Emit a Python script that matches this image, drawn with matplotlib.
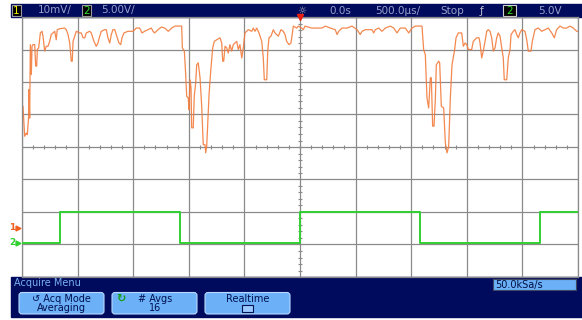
import numpy as np
import matplotlib.pyplot as plt
from matplotlib.patches import Rectangle, FancyBboxPatch

# channel 1 (orange), time in us, level in mV (10 mV/div)
t1 = [-2491, -2476, -2461, -2452, -2440, -2437, -2431, -2425, -2416, -2410,
      -2401, -2386, -2377, -2368, -2362, -2350, -2335, -2320, -2311, -2296,
      -2282, -2266, -2251, -2237, -2221, -2206, -2192, -2183, -2161, -2116,
      -2102, -2086, -2071, -2057, -2048, -2041, -2026, -2012, -1981, -1967,
      -1951, -1936, -1922, -1891, -1877, -1853, -1832, -1817, -1801, -1787,
      -1756, -1742, -1727, -1711, -1697, -1682, -1666, -1652, -1628, -1612,
      -1601, -1583, -1547, -1502, -1472, -1442, -1421, -1397, -1367, -1337,
      -1322, -1307, -1277, -1247, -1217, -1184, -1154, -1124, -1064, -1058,
      -1040, -1028, -1019, -1005, -998, -989, -980, -974, -960, -951,
      -938, -929, -915, -899, -884, -870, -854, -848, -839, -830,
      -818, -803, -785, -771, -749, -719, -704, -695, -686, -674,
      -659, -645, -630, -614, -600, -585, -569, -555, -540, -524,
      -510, -495, -465, -434, -420, -405, -389, -369, -344, -330,
      -321, -299, -290, -279, -261, -240, -225, -195, -171, -150,
      -135, -120, -99, -81, -69, -60, -30, -15, 15, 30,
      45, 105, 153, 198, 228, 272, 317, 333, 348, 378,
      423, 468, 513, 542, 558, 587, 647, 663, 677, 708,
      737, 767, 812, 843, 872, 902, 947, 978, 1007, 1037,
      1097, 1112, 1127, 1142, 1157, 1172, 1181, 1193, 1205, 1217,
      1226, 1247, 1256, 1271, 1292, 1307, 1322, 1337, 1352, 1367,
      1391, 1403, 1424, 1454, 1469, 1484, 1499, 1514, 1544, 1558,
      1589, 1610, 1619, 1634, 1648, 1664, 1679, 1693, 1709, 1724,
      1738, 1754, 1769, 1783, 1799, 1814, 1828, 1837, 1859, 1873,
      1889, 1898, 1918, 1933, 1949, 1963, 1978, 1994, 2023, 2039,
      2053, 2077, 2089, 2113, 2143, 2174, 2203, 2233, 2264, 2287,
      2308, 2338, 2368, 2398, 2428, 2458, 2488, 2500]
v1 = [37.4, 28.2, 29.2, 28.7, 34.4, 42.6, 33.8, 56.4, 47.2, 55.9,
      56.4, 56.4, 49.8, 49.8, 54.9, 55.4, 60.0, 60.5, 59.0, 54.4,
      55.9, 55.9, 57.4, 59.5, 60.0, 60.5, 57.9, 61.0, 61.3, 61.5,
      61.0, 59.5, 56.9, 51.3, 51.3, 57.4, 59.0, 60.5, 60.0, 60.0,
      58.5, 58.5, 60.0, 60.5, 60.0, 57.4, 55.9, 56.9, 59.0, 60.5,
      61.0, 61.0, 58.5, 56.9, 59.5, 61.0, 61.0, 59.5, 56.9, 56.4,
      58.5, 60.0, 60.5, 60.5, 61.5, 61.5, 60.0, 60.5, 61.0, 61.5,
      60.5, 60.0, 61.0, 61.8, 61.5, 60.5, 61.5, 62.1, 62.1, 55.4,
      54.4, 47.2, 40.5, 40.0, 36.4, 45.6, 43.1, 30.8, 30.8, 40.5,
      44.6, 50.2, 50.8, 46.2, 37.4, 25.6, 25.6, 23.1, 25.1, 31.8,
      41.0, 48.2, 55.4, 57.4, 57.9, 58.5, 56.9, 51.3, 51.3, 55.9,
      55.4, 53.8, 56.4, 54.4, 56.4, 56.9, 57.4, 54.9, 56.4, 52.3,
      55.4, 60.0, 61.0, 60.5, 61.5, 60.5, 61.5, 60.0, 57.4, 52.3,
      45.6, 45.6, 54.4, 58.5, 59.0, 61.0, 60.0, 59.0, 61.0, 60.5,
      59.5, 57.4, 56.4, 56.9, 60.0, 62.1, 61.5, 62.1, 61.5, 61.0,
      62.1, 61.5, 61.5, 61.5, 62.1, 61.5, 61.0, 59.5, 60.5, 61.5,
      61.5, 62.1, 61.0, 59.5, 60.5, 61.0, 61.0, 60.0, 61.0, 61.5,
      60.5, 61.5, 62.1, 61.5, 60.0, 61.5, 61.5, 60.0, 61.5, 62.1,
      62.1, 54.9, 53.3, 40.0, 36.9, 46.2, 46.2, 31.3, 31.3, 39.5,
      50.2, 51.3, 50.8, 37.4, 36.9, 26.2, 23.1, 25.1, 40.0, 50.2,
      54.9, 58.5, 60.0, 60.0, 55.9, 56.9, 56.4, 54.9, 54.9, 57.4,
      58.5, 58.5, 56.9, 52.3, 54.4, 57.4, 60.5, 61.0, 60.5, 58.5,
      54.4, 55.4, 58.5, 60.0, 59.0, 55.4, 52.3, 45.6, 45.6, 52.3,
      54.9, 59.5, 60.5, 61.0, 59.5, 58.5, 60.0, 61.0, 60.5, 57.9,
      54.4, 54.4, 57.4, 61.0, 61.5, 60.5, 61.0, 61.5, 60.0, 58.5,
      61.0, 62.1, 61.5, 61.5, 62.1, 61.5, 60.5, 60.5]

# channel 2 (green) square wave: edge times in us, level in V (5 V/div)
t2 = [-2500, -2158, -1079, 0, 1079, 2158, 2500]
v2 = [0.0, 4.7, 0.0, 4.7, 0.0, 4.7, 4.7]

ch1_range = (-15.1, 64.9)
ch2_range = (-5.3, 34.7)

navy = '#000b5e'
btn = '#6cb0f8'
grid_c = '#8a8a8a'

fig = plt.figure(figsize=(5.82, 3.2), dpi=100)
fig.patch.set_facecolor('white')

# screen furniture in pixel coordinates
ui = fig.add_axes([0, 0, 1, 1])
ui.set_xlim(0, 582)
ui.set_ylim(320, 0)
ui.axis('off')

ui.add_patch(Rectangle((11, 3.5), 571, 13.5, color=navy))
ui.add_patch(Rectangle((11, 277), 571, 40, color=navy))

hdr = dict(fontsize=7.5, va='center', family='DejaVu Sans')
ui.add_patch(Rectangle((12, 4.5), 8.5, 11.5, facecolor='black', edgecolor='#9a9a9a', lw=0.8))
ui.text(16.3, 10.5, '1', color='#f0f000', ha='center', **hdr)
ui.text(38, 10.5, '10mV/', color='#98a0c8', **hdr)
ui.add_patch(Rectangle((82, 4.5), 8.5, 11.5, facecolor='black', edgecolor='#9a9a9a', lw=0.8))
ui.text(86.3, 10.5, '2', color='#30e030', ha='center', **hdr)
ui.text(101, 10.5, '5.00V/', color='#98a0c8', **hdr)
ui.text(302, 10.5, '\u263c', color='#b0b0c0', ha='center', **hdr)
ui.text(329, 10.5, '0.0s', color='#98a0c8', **hdr)
ui.text(375, 10.5, '500.0\u00b5s/', color='#98a0c8', **hdr)
ui.text(440, 10.5, 'Stop', color='#98a0c8', **hdr)
ui.text(482, 10.5, '\u0192', color='#c0c0d0', ha='center', **hdr)
ui.add_patch(Rectangle((503, 4.5), 13, 11.5, facecolor='black', edgecolor='#d0d0d0', lw=0.8))
ui.text(509.5, 10.5, '2', color='#30e030', ha='center', **hdr)
ui.text(538, 10.5, '5.0V', color='#98a0c8', **hdr)

ui.text(14, 283, 'Acquire Menu', color='#7ab0f0', fontsize=7, va='center')
for x0 in [19, 112, 205]:
    ui.add_patch(FancyBboxPatch((x0, 292.5), 85, 21.5,
                                boxstyle='round,pad=0,rounding_size=3',
                                facecolor=btn, edgecolor='#b8d8ff', lw=0.8))
bt = dict(fontsize=7, va='center', ha='center', color='#001050')
ui.text(61.5, 298.5, '\u21ba Acq Mode', **bt)
ui.text(61.5, 308, 'Averaging', **bt)
ui.text(121, 298.5, '\u21bb', fontsize=8, va='center', ha='center', color='#10a010',
        fontweight='bold')
ui.text(155, 298.5, '# Avgs', **bt)
ui.text(155, 308, '16', **bt)
ui.text(247.5, 298.5, 'Realtime', **bt)
ui.add_patch(Rectangle((242, 305), 11, 7, facecolor='#9cc8ff', edgecolor='#001050', lw=0.8))

ui.add_patch(Rectangle((493, 279), 83, 11, facecolor=btn, edgecolor='#404860', lw=0.8))
ui.text(495, 284.7, '50.0kSa/s', color='#001040', fontsize=7, va='center')

# graticule
ax = fig.add_axes([22 / 582, 1 - 277 / 320, 556 / 582, 260 / 320])
ax.set_facecolor('none')
ax.set_xlim(-2500, 2500)
ax.set_ylim(*ch1_range)
ax.set_xticks(np.arange(-2500, 2501, 500))
ax.set_yticks(np.linspace(ch1_range[0], ch1_range[1], 9))
ax.tick_params(length=0, labelbottom=False, labelleft=False)
ax.grid(True, color=grid_c, lw=0.9)
for s in ax.spines.values():
    s.set_color(grid_c)
    s.set_linewidth(0.9)

yc = np.mean(ch1_range)
xm = np.arange(-2500, 2501, 100)
ax.plot(xm, np.full_like(xm, yc, dtype=float), ls='none', marker='|', ms=3.5,
        color=grid_c, mew=0.8)
ym = np.linspace(ch1_range[0], ch1_range[1], 41)
ax.plot(np.zeros_like(ym), ym, ls='none', marker='_', ms=3.5, color=grid_c, mew=0.8)

ax.plot(t1, v1, color='#f27c3c', lw=0.9, alpha=0.9)

ax.plot(0, ch1_range[1], marker='v', color='#e82010', ms=5, clip_on=False, zorder=5)

ax2 = ax.twinx()
ax2.set_ylim(*ch2_range)
ax2.axis('off')
ax2.plot(t2, v2, drawstyle='steps-post', color='#30d030', lw=1.4)

# ground markers on the left edge
yt1 = ax.get_yaxis_transform()
ax.text(-0.012, 0, '1', transform=yt1, color='#f06020', fontsize=6.5, ha='right',
        va='center', fontweight='bold', clip_on=False)
ax.plot(-0.008, 0, marker='>', transform=yt1, color='#f06020', ms=3.5, clip_on=False)
yt2 = ax2.get_yaxis_transform()
ax2.text(-0.012, 0, '2', transform=yt2, color='#30d030', fontsize=6.5, ha='right',
         va='center', fontweight='bold', clip_on=False)
ax2.plot(-0.008, 0, marker='>', transform=yt2, color='#30d030', ms=3.5, clip_on=False)

fig.savefig('out.png', dpi=100)
